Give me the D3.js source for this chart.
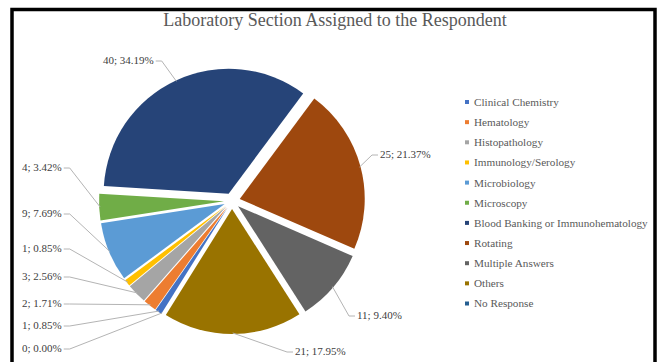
<!DOCTYPE html>
<html>
<head>
<meta charset="utf-8">
<script src="https://cdn.jsdelivr.net/npm/d3@7"></script>
<style>
  body { margin: 0; background: #fff; }
  text { font-family: "Liberation Serif", "DejaVu Serif", serif; }
</style>
</head>
<body>
<svg id="chart" width="660" height="362"></svg>
<script>
var categories = ["Clinical Chemistry", "Hematology", "Histopathology", "Immunology/Serology",
  "Microbiology", "Microscopy", "Blood Banking or Immunohematology", "Rotating",
  "Multiple Answers", "Others", "No Response"]
var counts = [1, 2, 3, 1, 9, 4, 40, 25, 11, 21, 0]
var colors = ["#4472C4", "#ED7D31", "#A5A5A5", "#FFC000", "#5B9BD5", "#70AD47",
  "#264478", "#9E480E", "#636363", "#997300", "#255E91"]

// where each data label sits (x of text edge, y of text middle, side of the text)
var labelPos = [[22, 325, "L"], [22, 303, "L"], [22, 276, "L"], [22, 248, "L"], [22, 213, "L"],
  [22, 167, "L"], [103, 60, "L"], [380, 154, "R"], [357, 315, "R"], [295, 351, "R"], [22, 348, "L"]]

var CX = 232, CY = 201, R = 125, EXPLODE = 8
var START = 212 * Math.PI / 180
var total = d3.sum(counts)

var svg = d3.select("#chart")

// frame
svg.append("rect")
  .attr("x", 12).attr("y", 9.5)
  .attr("width", 643).attr("height", 400)
  .attr("fill", "none")
  .attr("stroke", "#000")
  .attr("stroke-width", 3.5)

svg.append("text")
  .attr("x", 335).attr("y", 26)
  .attr("text-anchor", "middle")
  .style("font-size", "18px")
  .style("fill", "#595959")
  .text("Laboratory Section Assigned to the Respondent")

var pie = d3.pie().sort(null).value(d => d)
  .startAngle(START).endAngle(START + 2 * Math.PI)
var arcs = pie(counts)
var arc = d3.arc().innerRadius(0).outerRadius(R)

function dir(a) { return [Math.sin(a), -Math.cos(a)] }

var g = svg.append("g").attr("transform", "translate(" + CX + "," + CY + ")")

g.selectAll("path.slice")
  .data(arcs)
  .enter().append("path")
  .attr("class", "slice")
  .attr("d", arc)
  .attr("fill", (d, i) => colors[i])
  .attr("transform", d => {
    var m = (d.startAngle + d.endAngle) / 2
    var v = dir(m)
    return "translate(" + v[0] * EXPLODE + "," + v[1] * EXPLODE + ")"
  })

// data labels with leader lines
arcs.forEach((d, i) => {
  var p = labelPos[i]
  var txt = svg.append("text")
    .attr("x", p[0]).attr("y", p[1])
    .attr("dy", "0.35em")
    .style("font-size", "11px")
    .style("fill", "#404040")
    .text(counts[i] + "; " + (counts[i] / total * 100).toFixed(2) + "%")
  var w = txt.node().getComputedTextLength()

  var m = (d.startAngle + d.endAngle) / 2
  var v = dir(m)
  var tip = [CX + v[0] * (R + EXPLODE - 1), CY + v[1] * (R + EXPLODE - 1)]
  var x0, x1
  if (p[2] == "L") {
    x0 = p[0] + w + 2
    x1 = x0 + 6
  } else {
    x0 = p[0] - 2
    x1 = x0 - 6
  }
  svg.append("path")
    .attr("d", d3.line()([[x0, p[1] + 1], [x1, p[1] + 1], tip]))
    .attr("fill", "none")
    .attr("stroke", "#b4b4b4")
    .attr("stroke-width", 1)
})

// legend
var legend = svg.append("g").attr("transform", "translate(467,102)")
var item = legend.selectAll("g")
  .data(categories)
  .enter().append("g")
  .attr("transform", (d, i) => "translate(0," + i * 20.15 + ")")
item.append("rect")
  .attr("x", -2).attr("y", -2)
  .attr("width", 4).attr("height", 4)
  .attr("fill", (d, i) => colors[i])
item.append("text")
  .attr("x", 7).attr("dy", "0.35em")
  .style("font-size", "11.2px")
  .style("fill", "#595959")
  .text(d => d)
</script>
</body>
</html>
